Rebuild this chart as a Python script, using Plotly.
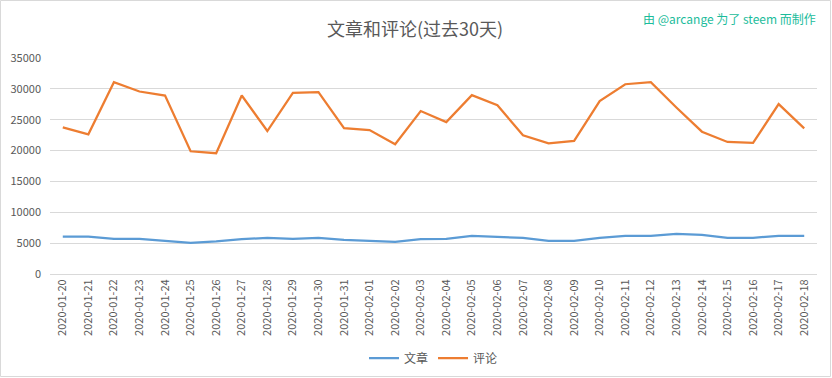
import plotly.graph_objects as go

dates = ["2020-01-20","2020-01-21","2020-01-22","2020-01-23","2020-01-24","2020-01-25","2020-01-26",
         "2020-01-27","2020-01-28","2020-01-29","2020-01-30","2020-01-31","2020-02-01","2020-02-02",
         "2020-02-03","2020-02-04","2020-02-05","2020-02-06","2020-02-07","2020-02-08","2020-02-09",
         "2020-02-10","2020-02-11","2020-02-12","2020-02-13","2020-02-14","2020-02-15","2020-02-16",
         "2020-02-17","2020-02-18"]
posts = [6050, 6050, 5700, 5700, 5380, 5050, 5270, 5640, 5860, 5700, 5860, 5540, 5380, 5215,
         5640, 5700, 6180, 6020, 5860, 5380, 5380, 5860, 6180, 6180, 6500, 6340, 5860, 5860,
         6180, 6180]
comments = [23760, 22630, 31070, 29570, 28920, 19890, 19570, 28920, 23170, 29350, 29460, 23650,
            23330, 21020, 26400, 24620, 28980, 27360, 22470, 21180, 21560, 28010, 30750, 31070,
            26990, 23060, 21400, 21240, 27530, 23600]
y_ticks = [0, 5000, 10000, 15000, 20000, 25000, 30000, 35000]
y_tick_labels = [str(v) for v in y_ticks]

FONT = "Noto Sans CJK SC, Microsoft YaHei, sans-serif"
TXT = "#595959"

fig = go.Figure()
fig.add_trace(go.Scatter(x=dates, y=posts, mode="lines", name="文章",
                         line=dict(color="#5B9BD5", width=2.25)))
fig.add_trace(go.Scatter(x=dates, y=comments, mode="lines", name="评论",
                         line=dict(color="#ED7D31", width=2.25)))

W, H = 832, 378
L, R, T, B = 50, 15, 58, 104
pw, ph = W - L - R, H - T - B

def px(x): return (x - L) / pw
def py(y): return (H - B - y) / ph

fig.update_layout(
    width=W, height=H,
    margin=dict(l=L, r=R, t=T, b=B, autoexpand=False),
    paper_bgcolor="white", plot_bgcolor="white",
    font=dict(family=FONT, color=TXT, size=11),
    showlegend=True,
    legend=dict(orientation="h", x=0.5, xanchor="center", y=py(358), yanchor="middle",
                font=dict(size=12, color=TXT), itemwidth=30),
    xaxis=dict(type="category", tickangle=-90, range=[-0.5, 29.5], automargin=False,
               showgrid=False, showline=True, linecolor="#D9D9D9", linewidth=1,
               ticks="", tickfont=dict(size=11, color=TXT), fixedrange=True),
    yaxis=dict(range=[0, 35000], tickvals=y_ticks, ticktext=y_tick_labels, automargin=False,
               showgrid=True, gridcolor="#D9D9D9",
               gridwidth=1, zeroline=True, zerolinecolor="#D9D9D9", showline=False,
               ticks="", tickfont=dict(size=11, color=TXT), ticklabelstandoff=8),
    annotations=[
        dict(text="文章和评论(过去30天)", xref="paper", yref="paper", x=px(415), y=py(28),
             xanchor="center", yanchor="middle", showarrow=False,
             font=dict(size=18, color=TXT, family=FONT)),
        dict(text="由 @arcange 为了 steem 而制作", xref="paper", yref="paper", x=px(818), y=py(18),
             xanchor="right", yanchor="middle", showarrow=False,
             font=dict(size=12, color="#1BBC9B", family=FONT)),
    ],
    shapes=[dict(type="rect", xref="paper", yref="paper", x0=px(0.5), x1=px(830.5),
                 y0=py(376.5), y1=py(0.5), line=dict(color="#D9D9D9", width=1), layer="below")],
)

fig.write_html("out.html", config={"displayModeBar": False},
               post_script="document.body.style.margin='0';document.body.style.overflow='hidden';")
